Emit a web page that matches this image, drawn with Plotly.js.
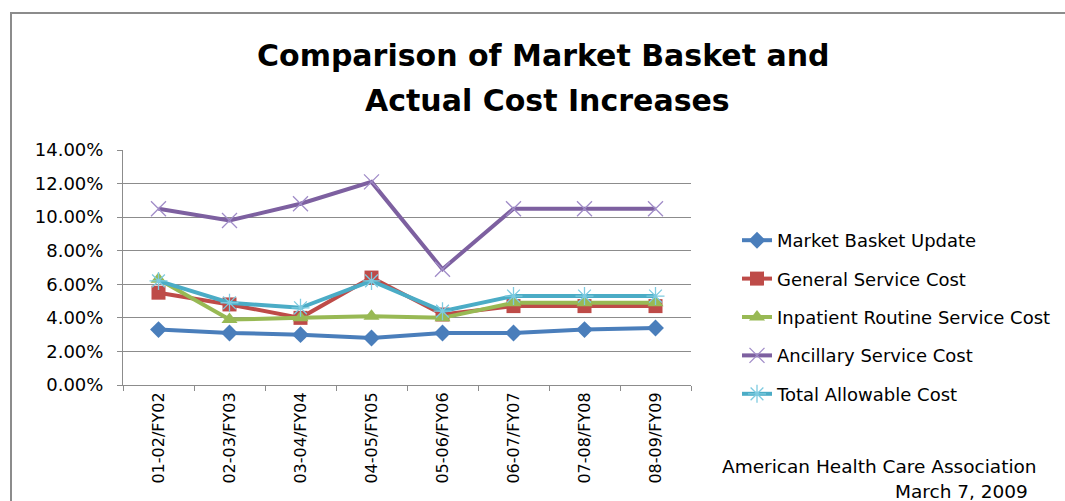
<!DOCTYPE html>
<html>
<head>
<meta charset="utf-8">
<script src="https://cdn.plot.ly/plotly-3.0.1.min.js"></script>
<style>
  html, body { margin: 0; padding: 0; background: #ffffff; }
  #frame { position: absolute; left: 10px; top: 12px; width: 1100px; height: 600px;
           border-left: 2px solid #8c8c8c; border-top: 2px solid #8c8c8c; }
  #chart { position: absolute; left: 0; top: 0; width: 1065px; height: 501px; }
</style>
</head>
<body>
<div id="frame"></div>
<div id="chart"></div>
<script>
const categories = ["01-02/FY02", "02-03/FY03", "03-04/FY04", "04-05/FY05",
                    "05-06/FY06", "06-07/FY07", "07-08/FY08", "08-09/FY09"];
const marketBasket   = [3.3, 3.1, 3.0, 2.8, 3.1, 3.1, 3.3, 3.4];
const generalService = [5.5, 4.8, 4.0, 6.4, 4.2, 4.7, 4.7, 4.7];
const inpatientRoutine = [6.3, 3.9, 4.0, 4.1, 4.0, 4.9, 4.9, 4.9];
const ancillary      = [10.5, 9.8, 10.8, 12.1, 6.9, 10.5, 10.5, 10.5];
const totalAllowable = [6.2, 4.9, 4.6, 6.2, 4.4, 5.3, 5.3, 5.3];
const seriesNames = ["Market Basket Update", "General Service Cost",
                     "Inpatient Routine Service Cost", "Ancillary Service Cost",
                     "Total Allowable Cost"];
const yTickVals = [0, 2, 4, 6, 8, 10, 12, 14];
const yTickText = ["0.00%", "2.00%", "4.00%", "6.00%", "8.00%", "10.00%", "12.00%", "14.00%"];
const titleLines = ["Comparison of Market Basket and", "Actual Cost Increases"];
const footerLines = ["American Health Care Association", "March 7, 2009"];

const traces = [
  { y: marketBasket, name: seriesNames[0], color: "#4a7ebb",
    marker: { symbol: "diamond", size: 13, color: "#4a7ebb" } },
  { y: generalService, name: seriesNames[1], color: "#be4b48",
    marker: { symbol: "square", size: 14, color: "#be4b48" } },
  { y: inpatientRoutine, name: seriesNames[2], color: "#98b954",
    marker: { symbol: "triangle-up", size: 14, color: "#98b954" } },
  { y: ancillary, name: seriesNames[3], color: "#7d60a0",
    marker: { symbol: "x-thin", size: 15, color: "#a08cc8", line: { color: "#a08cc8", width: 1.3 } } },
  { y: totalAllowable, name: seriesNames[4], color: "#4bacc6",
    marker: { symbol: "asterisk", size: 15, color: "#7ecbe0", line: { color: "#7ecbe0", width: 1.3 } } }
].map((t, i) => ({
  type: "scatter", mode: "lines+markers",
  x: categories, y: t.y,
  name: t.name, legendgroup: "g" + i,
  line: { color: t.color, width: 4 },
  marker: t.marker,
  hoverinfo: "skip"
}));

const W = 1065, H = 501;
const L = 123, R = 691, T = 149.5, B = 385;
const px = x => (x - L) / (R - L);
const py = y => (B - y) / (B - T);

const layout = {
  width: W, height: H,
  paper_bgcolor: "rgba(0,0,0,0)", plot_bgcolor: "rgba(0,0,0,0)",
  margin: { l: L, r: W - R, t: T, b: H - B, pad: 0, autoexpand: false },
  font: { family: "DejaVu Sans", color: "#000000" },
  xaxis: {
    type: "category", range: [-0.5, 7.5],
    showgrid: false, showline: true, linecolor: "#8c8c8c", linewidth: 1,
    ticks: "outside", ticklen: 5, tickcolor: "#8c8c8c", tickson: "boundaries",
    tickangle: -90, tickfont: { family: "DejaVu Sans", size: 16, color: "#000" },
    zeroline: false, automargin: false
  },
  yaxis: {
    range: [0, 14], tickvals: yTickVals, ticktext: yTickText,
    showgrid: true, gridcolor: "#8c8c8c", gridwidth: 1,
    showline: true, linecolor: "#8c8c8c", linewidth: 1,
    ticks: "outside", ticklen: 5, tickcolor: "#8c8c8c",
    tickfont: { family: "DejaVu Sans", size: 18, color: "#000" },
    zeroline: false, ticklabelstandoff: 10, automargin: false
  },
  showlegend: true,
  legend: {
    xref: "container", yref: "container",
    x: 737 / W, xanchor: "left", y: 1 - 222 / H, yanchor: "top",
    font: { family: "DejaVu Sans", size: 18, color: "#000" },
    tracegroupgap: 12, itemwidth: 30, bgcolor: "rgba(0,0,0,0)"
  },
  annotations: [
    { text: "<b>" + titleLines[0] + "</b>", xref: "paper", yref: "paper",
      x: px(543), y: py(55), xanchor: "center", yanchor: "middle", showarrow: false,
      font: { family: "DejaVu Sans", size: 30, color: "#000" } },
    { text: "<b>" + titleLines[1] + "</b>", xref: "paper", yref: "paper",
      x: px(547), y: py(100), xanchor: "center", yanchor: "middle", showarrow: false,
      font: { family: "DejaVu Sans", size: 30, color: "#000" } },
    { text: footerLines[0], xref: "paper", yref: "paper",
      x: px(720), y: py(467), xanchor: "left", yanchor: "middle", showarrow: false,
      font: { family: "DejaVu Sans", size: 18.5, color: "#000" } },
    { text: footerLines[1], xref: "paper", yref: "paper",
      x: px(1030), y: py(492), xanchor: "right", yanchor: "middle", showarrow: false,
      font: { family: "DejaVu Sans", size: 18.5, color: "#000" } }
  ]
};

Plotly.newPlot("chart", traces, layout, { displayModeBar: false, staticPlot: true });
</script>
</body>
</html>
